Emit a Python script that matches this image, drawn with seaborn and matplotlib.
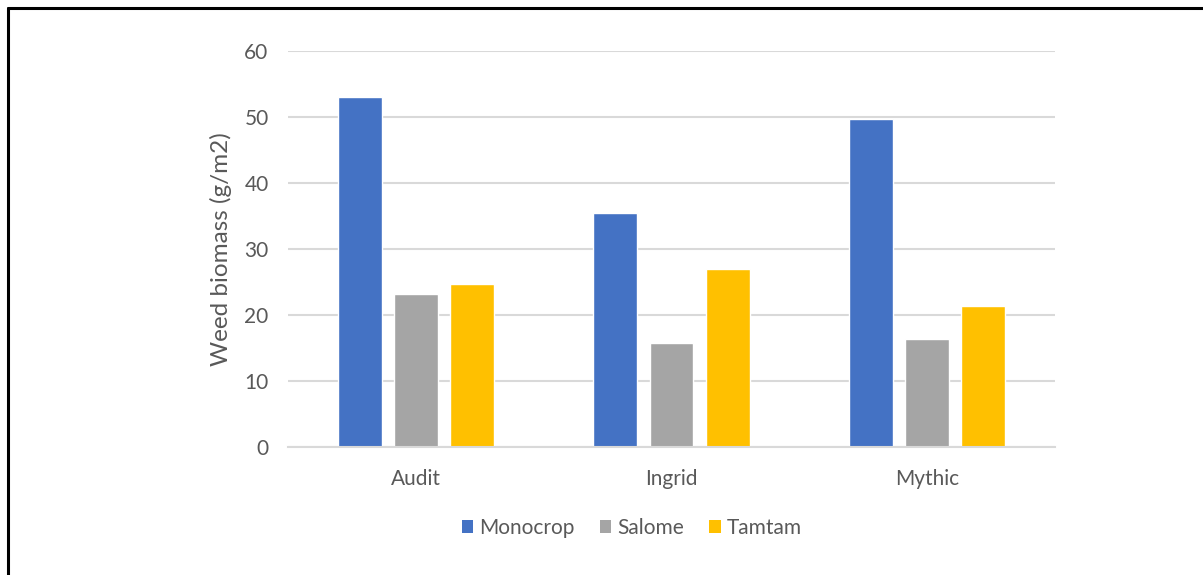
import matplotlib
matplotlib.use("Agg")
import matplotlib.pyplot as plt
from matplotlib.lines import Line2D
from matplotlib.patches import Patch
import pandas as pd
import seaborn as sns

varieties = ["Audit", "Ingrid", "Mythic"]
treatments = ["Monocrop", "Salome", "Tamtam"]
monocrop = [53.0, 35.5, 49.7]
salome = [23.2, 15.7, 16.3]
tamtam = [24.7, 26.9, 21.4]
y_ticks = [0, 10, 20, 30, 40, 50, 60]

colors = ["#4472C4", "#A5A5A5", "#FFC000"]
text_color = "#595959"
grid_color = "#D9D9D9"

df = pd.DataFrame({
    "variety": varieties * 3,
    "treatment": [t for t in treatments for _ in varieties],
    "biomass": monocrop + salome + tamtam,
})

sns.set_theme(style="white")
plt.rcParams["font.family"] = ["Lato", "DejaVu Sans"]

fs = 15

fig = plt.figure(figsize=(12.03, 5.75), dpi=100)
ax = fig.add_axes([288 / 1203, 1 - 447 / 575, (1055 - 288) / 1203, (447 - 51) / 575])

sns.barplot(data=df, x="variety", y="biomass", hue="treatment",
            order=varieties, hue_order=treatments, palette=colors,
            width=0.66, gap=0.22, errorbar=None, saturation=1,
            legend=False, ax=ax)

ax.set_xlim(-0.5, 2.5)
ax.set_ylim(0, 60)
ax.set_yticks(y_ticks)
ax.yaxis.grid(True, color=grid_color, linewidth=1.5)
ax.set_axisbelow(True)
for side in ["left", "right", "top"]:
    ax.spines[side].set_visible(False)
ax.spines["bottom"].set_color(grid_color)
ax.spines["bottom"].set_linewidth(1.5)
ax.tick_params(axis="both", length=0, labelsize=fs, colors=text_color)
ax.tick_params(axis="y", pad=14)
ax.tick_params(axis="x", pad=16)
ax.set_xlabel("")
ax.set_ylabel("Weed biomass (g/m2)", fontsize=17.5, color=text_color, labelpad=9)

handles = [Patch(facecolor=c, edgecolor="none") for c in colors]
fig.legend(handles, treatments, loc="center", bbox_to_anchor=(632 / 1203, 1 - 528 / 575),
           ncol=3, frameon=False, fontsize=fs, labelcolor=text_color,
           handlelength=0.55, handleheight=0.55, handletextpad=0.3, columnspacing=1.2)

# frame around the chart area
fig.add_artist(Line2D([8 / 1203, 8 / 1203], [1 - 8 / 575, 0], transform=fig.transFigure,
                      color="black", linewidth=2.2))
fig.add_artist(Line2D([8 / 1203, 1], [1 - 8 / 575, 1 - 8 / 575], transform=fig.transFigure,
                      color="black", linewidth=2.2))

fig.savefig("out.png", dpi=100)
